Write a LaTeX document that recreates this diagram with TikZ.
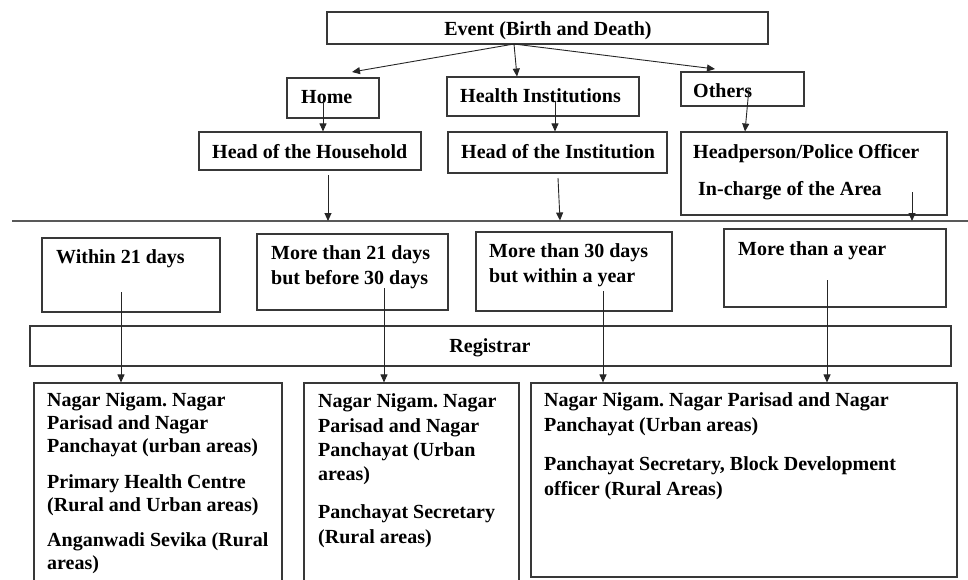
\documentclass[tikz,border=0pt]{standalone}
\usepackage{fontspec}
\setmainfont{Liberation Serif}
\usetikzlibrary{arrows.meta}
\frenchspacing
\begin{document}
\begin{tikzpicture}[x=1pt,y=-1pt,
  box/.style={draw=black!78, line width=1.1pt, inner sep=0pt},
  txt/.style={inner sep=0pt, anchor=base west, font=\bfseries\fontsize{20}{24}\selectfont, text=black},
  ctxt/.style={txt, anchor=base},
  arr/.style={draw=black!85, line width=0.9pt, -{Triangle[length=8pt,width=7pt]}},
  rule/.style={draw=black!65, line width=2pt}]
\useasboundingbox (0,0) rectangle (968,579);

% boxes
\node[box, minimum width=441pt, minimum height=32pt] (ev) at (547.5,28) {};
\node[box, minimum width=92pt, minimum height=40pt] (home) at (333,98) {};
\node[box, minimum width=192pt, minimum height=39pt] (health) at (543,96.5) {};
\node[box, minimum width=123pt, minimum height=34pt] (others) at (742.5,89) {};
\node[box, minimum width=222pt, minimum height=38pt] (hoh) at (310,151) {};
\node[box, minimum width=219pt, minimum height=41pt] (hoi) at (557.5,152.5) {};
\node[box, minimum width=266pt, minimum height=83pt] (head) at (814,173.5) {};
\node[box, minimum width=178pt, minimum height=74pt] (w21) at (131,275) {};
\node[box, minimum width=191pt, minimum height=76pt] (m21) at (352.5,272) {};
\node[box, minimum width=196pt, minimum height=79pt] (m30) at (574,271.5) {};
\node[box, minimum width=222pt, minimum height=78pt] (myr) at (835,268) {};
\node[box, minimum width=921pt, minimum height=40pt] (reg) at (490.5,346) {};
\node[box, minimum width=248pt, minimum height=217pt] (b1) at (158,491.5) {};
\node[box, minimum width=215pt, minimum height=217pt] (b2) at (411.5,491.5) {};
\node[box, minimum width=426pt, minimum height=194pt] (b3) at (744,480) {};

% horizontal rule
\coordinate (hl1) at (12,221);
\coordinate (hl2) at (968,221);
\draw[rule] (hl1) -- (hl2);

% texts
\node[ctxt] (tev) at (548,35) {Event (Birth and Death)};
\node[txt] (thome) at (301,103) {Home};
\node[txt] (thealth) at (460,102) {Health Institutions};
\node[txt] (tothers) at (693,97) {Others};
\node[txt] (thoh) at (212,158) {Head of the Household};
\node[txt] (thoi) at (461,158) {Head of the Institution};
\node[txt] (thead1) at (693,158) {Headperson/Police Officer};
\node[txt] (thead2) at (698,195) {In-charge of the Area};
\node[txt] (tw21) at (56,263) {Within 21 days};
\node[txt] (tm21a) at (271,259) {More than 21 days};
\node[txt] (tm21b) at (271,284) {but before 30 days};
\node[txt] (tm30a) at (489,257) {More than 30 days};
\node[txt] (tm30b) at (489,282) {but within a year};
\node[txt] (tmyr) at (738,255) {More than a year};
\node[ctxt] (treg) at (490,352) {Registrar};

\node[txt] (b1a) at (47,406) {Nagar Nigam. Nagar};
\node[txt] (b1b) at (47,429) {Parisad and Nagar};
\node[txt] (b1c) at (47,452) {Panchayat (urban areas)};
\node[txt] (b1d) at (47,488) {Primary Health Centre};
\node[txt] (b1e) at (47,511) {(Rural and Urban areas)};
\node[txt] (b1f) at (47,546) {Anganwadi Sevika (Rural};
\node[txt] (b1g) at (47,569) {areas)};

\node[txt] (b2a) at (318,407) {Nagar Nigam. Nagar};
\node[txt] (b2b) at (318,432) {Parisad and Nagar};
\node[txt] (b2c) at (318,456) {Panchayat (Urban};
\node[txt] (b2d) at (318,480) {areas)};
\node[txt] (b2e) at (318,518) {Panchayat Secretary};
\node[txt] (b2f) at (318,543) {(Rural areas)};

\node[txt] (b3a) at (544,406) {Nagar Nigam. Nagar Parisad and Nagar};
\node[txt] (b3b) at (544,431) {Panchayat (Urban areas)};
\node[txt] (b3c) at (544,470) {Panchayat Secretary, Block Development};
\node[txt] (b3d) at (544,495) {officer (Rural Areas)};

% connector end points
\coordinate (evs) at (514,44);
\coordinate (homein) at (323,102);
\coordinate (healthin) at (555,102);
\coordinate (othersin) at (749,88);
\coordinate (hohout) at (328,175);
\coordinate (hoiout) at (558,178);
\coordinate (headout) at (912,192);
\coordinate (w21out) at (121,292);
\coordinate (m21out) at (384,288);
\coordinate (m30out) at (603,291);
\coordinate (myrout) at (827,280);

% connectors
\draw[arr] (evs) -- (352,72);
\draw[arr] (evs) -- (517,76.5);
\draw[arr] (evs) -- (715,69);
\draw[arr] (homein) -- (homein |- hoh.north);
\draw[arr] (healthin) -- (healthin |- hoi.north);
\draw[arr] (othersin) -- (745,131.5);
\draw[arr] (hohout) -- (hohout |- hl1);
\draw[arr] (hoiout) -- (560,220.5);
\draw[arr] (headout) -- (headout |- hl1);
\draw[arr] (w21out) -- (w21out |- b1.north);
\draw[arr] (m21out) -- (m21out |- b2.north);
\draw[arr] (m30out) -- (m30out |- b3.north);
\draw[arr] (myrout) -- (myrout |- b3.north);
\end{tikzpicture}
\end{document}
